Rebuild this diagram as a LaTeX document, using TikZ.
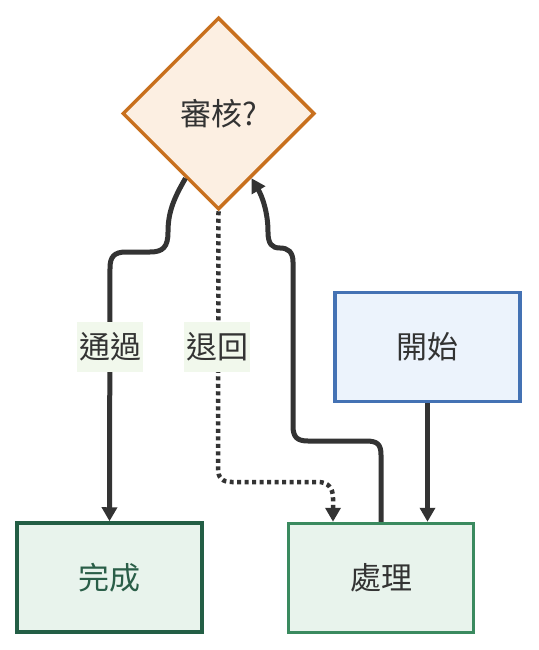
\documentclass[tikz,border=0pt]{standalone}
\usepackage{fontspec}
\newfontfamily\cjk{Noto Sans CJK TC}
\usetikzlibrary{arrows.meta,shapes.geometric}
\definecolor{edgec}{HTML}{333333}
\definecolor{dfill}{HTML}{FCEFE2}
\definecolor{dline}{HTML}{C8701E}
\definecolor{bfill}{HTML}{ECF3FC}
\definecolor{bline}{HTML}{4472B4}
\definecolor{gfill}{HTML}{E8F3EC}
\definecolor{gline}{HTML}{3A8A5F}
\definecolor{dgline}{HTML}{235E45}
\definecolor{dgtext}{HTML}{2A5E48}
\definecolor{lfill}{HTML}{F1F8EC}
\tikzset{
  box/.style={draw, line width=3.5pt, minimum width=185pt, minimum height=109pt, inner sep=0pt, font=\cjk\fontsize{31}{36}\selectfont, text=edgec},
  edge/.style={draw=edgec, line width=5pt, -{Triangle[length=14pt,width=15pt]}},
  dotedge/.style={edge, line width=4.5pt, dash pattern=on 4pt off 3.5pt},
  lbl/.style={fill=lfill, inner sep=2pt, minimum height=50pt, font=\cjk\fontsize{31}{36}\selectfont, text=edgec}
}
\begin{document}
\begin{tikzpicture}[x=1pt,y=-1pt]
\useasboundingbox (0,0) rectangle (538,650);
\node[draw=dline, fill=dfill, line width=3.5pt, diamond, aspect=1, minimum width=192pt, minimum height=192pt, inner sep=0pt, font=\cjk\fontsize{31}{36}\selectfont, text=edgec] (q) at (218.5,113.5) {審核?};
\node[box, draw=bline, fill=bfill] (start) at (427.5,347) {開始};
\node[box, draw=gline, fill=gfill] (proc) at (381,578) {處理};
\node[box, draw=dgline, fill=gfill, text=dgtext] (done) at (109.5,577.5) {完成};

\draw[edge] (start.south) -- (start.south |- proc.north);

\draw[edge] (proc.north) -- (381,455) .. controls (381,444) and (377,441) .. (366,441) -- (308,441) .. controls (297,441) and (293,437) .. (293,426) -- (293,262) .. controls (293,252) and (288,248) .. (280,248) .. controls (272,248) and (268,244) .. (268,232) .. controls (268,212) and (262,196) .. (q.297);

\draw[edge] (q.243) .. controls (174,198) and (168,212) .. (168,232) .. controls (168,247) and (163,252) .. (150,252) -- (126,252) .. controls (114,252) and (110,257) .. (110,268) -- (done.north);

\draw[dotedge] (q.south) -- (218,468) .. controls (218,478) and (222,482) .. (232,482) -- (318,482) .. controls (328,482) and (333,488) .. (333,498) -- ([xshift=-48pt]proc.north);

\node[lbl] (l1) at (110,347) {通過};
\node[lbl] (l2) at (217,347) {退回};
\end{tikzpicture}
\end{document}
